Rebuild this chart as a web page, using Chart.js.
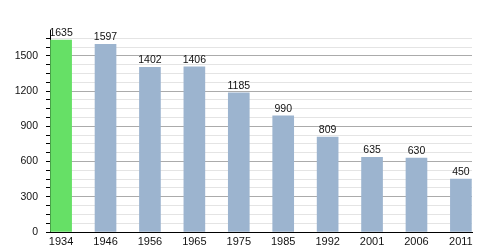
<!DOCTYPE html>
<html>
<head>
<meta charset="utf-8">
<script src="https://cdn.jsdelivr.net/npm/chart.js@4.4.0/dist/chart.umd.min.js"></script>
<style>
  html, body { margin: 0; padding: 0; background: #fff; }
  #wrap { width: 500px; height: 250px; }
</style>
</head>
<body>
<div id="wrap"><canvas id="popChart"></canvas></div>
<script>
// Données
const years = ['1934', '1946', '1956', '1965', '1975', '1985', '1992', '2001', '2006', '2011'];
const population = [1635, 1597, 1402, 1406, 1185, 990, 809, 635, 630, 450];
const barColors = ['#66e066', '#9cb4cf', '#9cb4cf', '#9cb4cf', '#9cb4cf', '#9cb4cf', '#9cb4cf', '#9cb4cf', '#9cb4cf', '#9cb4cf'];
const yTicks = [0, 300, 600, 900, 1200, 1500];

const fontFamily = "'Liberation Sans', Arial, sans-serif";

// étiquettes au-dessus des barres
const valueLabels = {
    id: 'valueLabels',
    afterDatasetsDraw(chart) {
        const ctx = chart.ctx;
        const meta = chart.getDatasetMeta(0);
        ctx.save();
        ctx.font = '10.5px ' + fontFamily;
        ctx.fillStyle = '#111';
        ctx.textAlign = 'center';
        ctx.textBaseline = 'alphabetic';
        meta.data.forEach((bar, i) => {
            ctx.fillText(population[i], bar.x, bar.y - 4);
        });
        ctx.restore();
    }
};

new Chart(document.getElementById('popChart'), {
    type: 'bar',
    data: {
        datasets: [{
            data: population.map((v, i) => ({ x: i, y: v })),
            backgroundColor: barColors,
            borderWidth: 0,
            barThickness: 21
        }]
    },
    options: {
        responsive: true,
        maintainAspectRatio: false,
        animation: false,
        layout: { padding: { top: 30, right: 28, left: 0, bottom: 0 } },
        plugins: {
            legend: { display: false },
            tooltip: { enabled: false }
        },
        scales: {
            x: {
                type: 'linear',
                offset: false,
                min: -0.25,
                max: 9.25,
                afterBuildTicks: axis => { axis.ticks = years.map((_, i) => ({ value: i })); },
                afterFit: axis => { axis.height = 18; },
                grid: { display: false, drawTicks: false },
                border: { color: '#000', width: 1 },
                ticks: {
                    autoSkip: false,
                    maxRotation: 0,
                    padding: 3,
                    color: '#111',
                    font: { family: fontFamily, size: 11 },
                    callback: v => years[v]
                }
            },
            y: {
                min: 0,
                max: 1720,
                afterBuildTicks: axis => {
                    const t = [];
                    for (let v = 0; v <= 1650; v += 75) t.push({ value: v });
                    axis.ticks = t;
                },
                afterFit: axis => { axis.width = 50; },
                border: { color: '#000', width: 1 },
                grid: {
                    color: c => (c.tick && yTicks.includes(c.tick.value)) ? '#ababab' : '#e4e4e4',
                    tickColor: '#000',
                    tickLength: 4
                },
                ticks: {
                    autoSkip: false,
                    padding: 8,
                    color: '#111',
                    font: { family: fontFamily, size: 10.5 },
                    callback: v => yTicks.includes(v) ? v : ''
                }
            }
        }
    },
    plugins: [valueLabels]
});
</script>
</body>
</html>
